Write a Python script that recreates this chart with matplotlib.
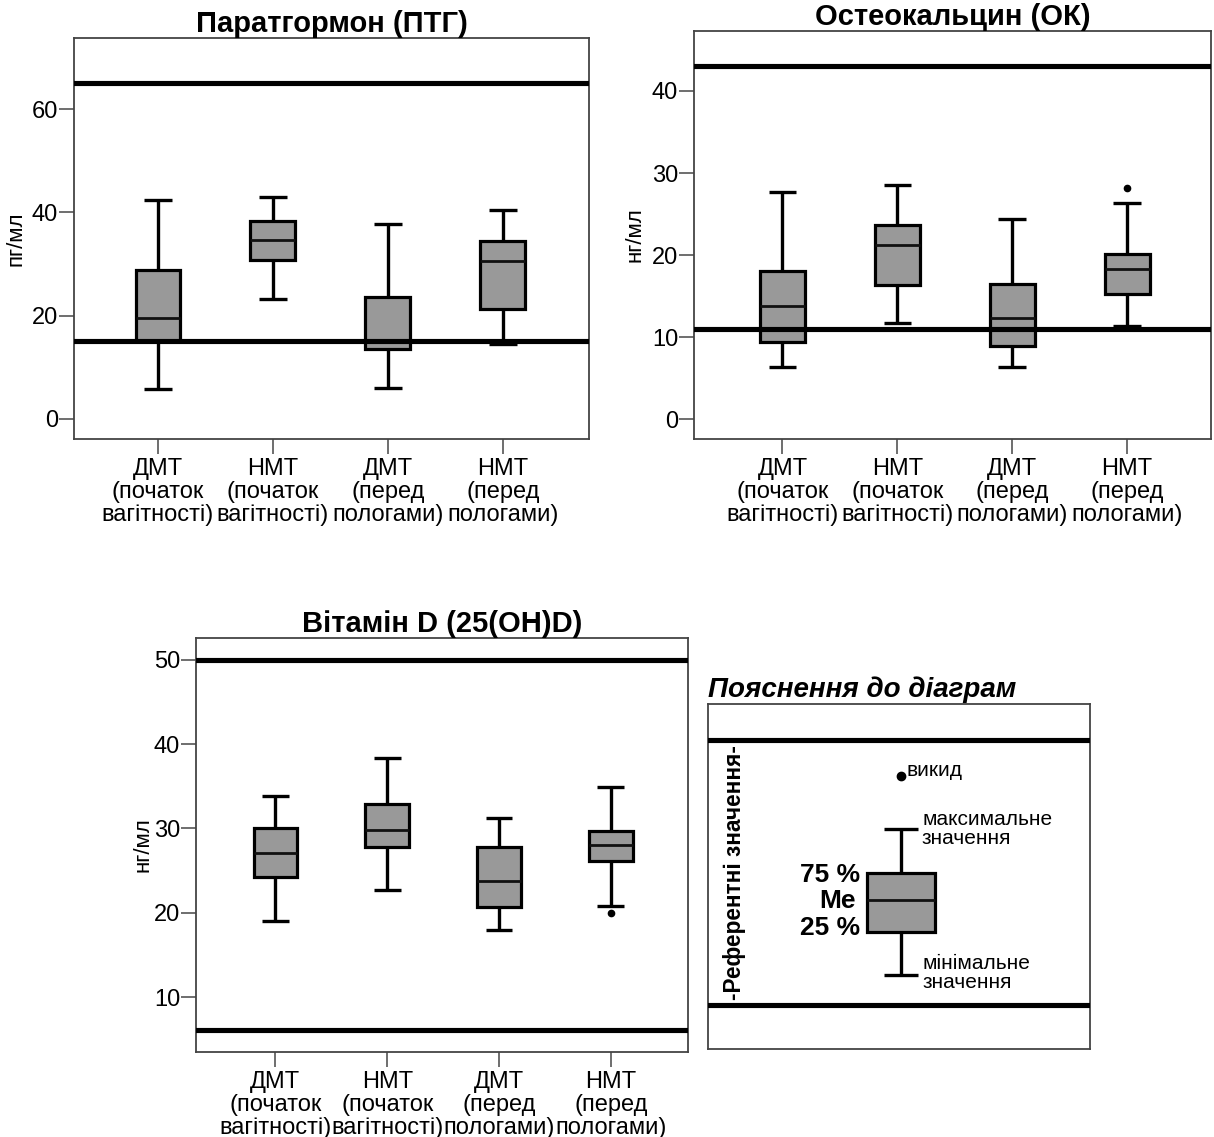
import matplotlib.pyplot as plt

W, H = 1214, 1137
plt.rcParams['font.family'] = ['Liberation Sans', 'DejaVu Sans']

groups = ['ДМТ\n(початок\nвагітності)', 'НМТ\n(початок\nвагітності)',
          'ДМТ\n(перед\nпологами)', 'НМТ\n(перед\nпологами)']

# Паратгормон, пг/мл
pth_low = [5.8, 23.3, 6.0, 14.5]
pth_q1 = [15.0, 30.8, 13.6, 21.2]
pth_med = [19.5, 34.6, 14.8, 30.6]
pth_q3 = [28.9, 38.3, 23.7, 34.4]
pth_high = [42.5, 42.9, 37.7, 40.5]
pth_out = [[], [], [], []]
pth_ref = [15, 65]

# Остеокальцин, нг/мл
ok_low = [6.4, 11.7, 6.4, 11.4]
ok_q1 = [9.4, 16.4, 8.9, 15.3]
ok_med = [13.8, 21.2, 12.4, 18.3]
ok_q3 = [18.1, 23.7, 16.5, 20.1]
ok_high = [27.7, 28.5, 24.4, 26.4]
ok_out = [[], [], [], [28.2]]
ok_ref = [11, 43]

# Вітамін D, нг/мл
vd_low = [19.0, 22.7, 18.0, 20.8]
vd_q1 = [24.3, 27.8, 20.7, 26.1]
vd_med = [27.1, 29.8, 23.8, 28.0]
vd_q3 = [30.0, 32.9, 27.8, 29.7]
vd_high = [33.9, 38.3, 31.2, 34.9]
vd_out = [[], [], [], [20.0]]
vd_ref = [6.1, 50]

# legend sample (in legend-panel pixel units)
lg_stats = dict(whislo=74, q1=117, med=149, q3=176, whishi=220, fliers=[273])
lg_ref = [44, 309]

BOX = dict(facecolor='#999999', edgecolor='black', linewidth=2.3)
MED = dict(color='#111111', linewidth=2.0)
WHISK = dict(color='black', linewidth=2.4, solid_capstyle='butt')
FLIER = dict(marker='o', markerfacecolor='black', markeredgecolor='black', markersize=4.5)


def px_axes(fig, l, t, r, b):
    return fig.add_axes([l / W, 1 - b / H, (r - l) / W, (b - t) / H])


def frame(ax):
    for s in ax.spines.values():
        s.set_color('#444444')
        s.set_linewidth(1.3)


def panel(ax, title, ylabel, low, q1, med, q3, high, out, ref, ylim, xlim, yticks, lab_x):
    stats = [dict(whislo=a, q1=b, med=c, q3=d, whishi=e, fliers=f)
             for a, b, c, d, e, f in zip(low, q1, med, q3, high, out)]
    ax.bxp(stats, positions=[1, 2, 3, 4], widths=0.39, capwidths=0.24,
           patch_artist=True, boxprops=BOX, medianprops=MED,
           whiskerprops=WHISK, capprops=WHISK, flierprops=FLIER)
    for r in ref:
        ax.axhline(r, color='black', linewidth=3.7, zorder=6)
    ax.set_xlim(*xlim)
    ax.set_ylim(*ylim)
    ax.set_yticks(yticks)
    ax.set_xticks([1, 2, 3, 4])
    ax.set_xticklabels(groups, linespacing=1.05)
    ax.tick_params(axis='both', labelsize=17, length=11, width=1.2,
                   color='#555555', pad=0.5)
    ax.tick_params(axis='x', pad=3)
    ax.set_title(title, fontsize=21, fontweight='bold', pad=1)
    ax.set_ylabel(ylabel, fontsize=16)
    ax.yaxis.set_label_coords(lab_x, 0.5)
    frame(ax)


fig = plt.figure(figsize=(W / 100, H / 100), dpi=100)

ax1 = px_axes(fig, 74, 38, 589, 439)
panel(ax1, 'Паратгормон (ПТГ)', 'пг/мл', pth_low, pth_q1, pth_med, pth_q3,
      pth_high, pth_out, pth_ref, (-3.9, 73.8), (0.27, 4.75), [0, 20, 40, 60], -0.093)

ax2 = px_axes(fig, 694, 31, 1211, 439)
panel(ax2, 'Остеокальцин (ОК)', 'нг/мл', ok_low, ok_q1, ok_med, ok_q3,
      ok_high, ok_out, ok_ref, (-2.4, 47.3), (0.23, 4.73), [0, 10, 20, 30, 40], -0.093)

ax3 = px_axes(fig, 196, 638, 688, 1052)
panel(ax3, 'Вітамін D (25(OH)D)', 'нг/мл', vd_low, vd_q1, vd_med, vd_q3,
      vd_high, vd_out, vd_ref, (3.53, 52.56), (0.29, 4.69), [10, 20, 30, 40, 50], -0.087)

# explanation panel
axl = px_axes(fig, 708, 704, 1090, 1049)
axl.bxp([lg_stats], positions=[193], widths=68, capwidths=34,
        patch_artist=True, boxprops=BOX, medianprops=MED,
        whiskerprops=WHISK, capprops=WHISK,
        flierprops=dict(FLIER, markersize=6), manage_ticks=False)
for r in lg_ref:
    axl.axhline(r, color='black', linewidth=3.7, zorder=6)
axl.set_xlim(0, 382)
axl.set_ylim(0, 345)
axl.set_xticks([])
axl.set_yticks([])
frame(axl)

axl.text(199, 278, 'викид', fontsize=15, ha='left', va='center')
axl.text(214, 220, 'максимальне\nзначення', fontsize=15, ha='left', va='center',
         linespacing=1.0)
axl.text(215, 76, 'мінімальне\nзначення', fontsize=15, ha='left', va='center',
         linespacing=1.0)
axl.text(152, 174, '75 %', fontsize=19, fontweight='bold', ha='right', va='center')
axl.text(148, 148, 'Me', fontsize=19, fontweight='bold', ha='right', va='center')
axl.text(152, 121, '25 %', fontsize=19, fontweight='bold', ha='right', va='center')
axl.text(27, 176, '-Референтні значення-', fontsize=16.3, fontweight='bold',
         rotation=90, ha='center', va='center', zorder=7)

fig.text(708 / W, 1 - 690 / H, 'Пояснення до діаграм', fontsize=20,
         fontweight='bold', fontstyle='italic', ha='left', va='center')

fig.savefig('out.png', dpi=100)
